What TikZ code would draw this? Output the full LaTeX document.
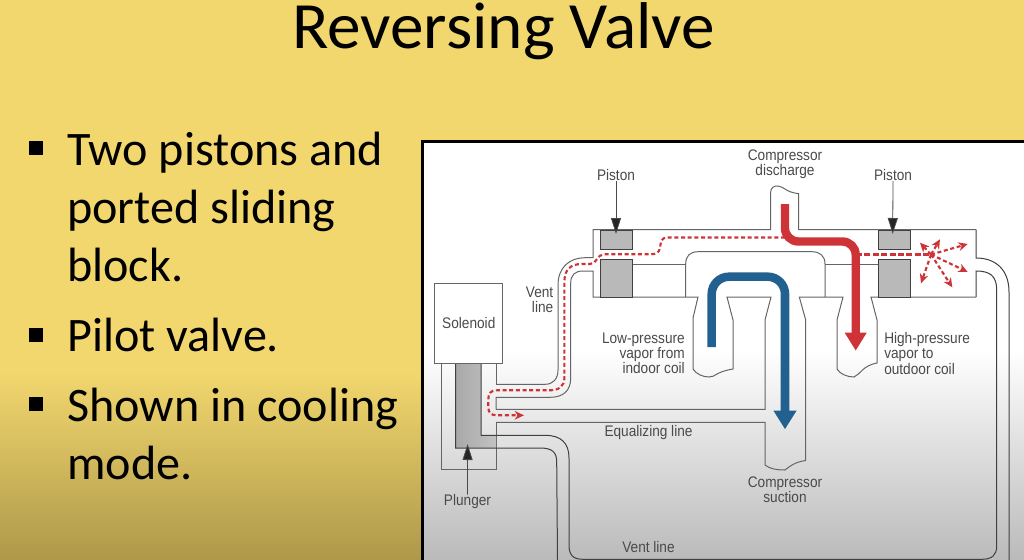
\documentclass[tikz,border=0pt]{standalone}
\usepackage{fontspec}
\setmainfont{Carlito}
\newfontfamily\lab[FakeStretch=0.89]{Liberation Sans}
\newfontfamily\ttl[FakeStretch=1.016]{Carlito}
\usetikzlibrary{arrows.meta}
\definecolor{slidey}{HTML}{F2D76E}
\definecolor{slideb}{HTML}{AE984A}
\definecolor{ink}{HTML}{4A4A4A}
\definecolor{pgray}{HTML}{B9B9B9}
\definecolor{rd}{HTML}{CE3338}
\definecolor{bl}{HTML}{22608F}
\tikzset{
  wall/.style={draw=ink!85,line width=0.75pt},
  piston/.style={draw=black!75,fill=pgray,line width=0.75pt},
  lbl/.style={font=\lab\fontsize{11.5}{11.3}\selectfont,text=ink,align=center,inner sep=0pt},
  bul/.style={fill=black,minimum size=10.5pt,inner sep=0pt,draw=none},
  slide/.style={font=\fontsize{36.1}{43.5}\selectfont,text=black,anchor=base west,inner sep=0pt,align=left},
  thin arrow/.style={draw=ink,line width=0.6pt,-{Triangle[length=12pt,width=7.5pt,fill=black!85]}},
  thickred/.style={draw=rd,line width=6.3pt,rounded corners=10pt},
  thickblue/.style={draw=bl,line width=6.4pt,rounded corners=13pt},
  dashred/.style={draw=rd,line width=1.6pt,dash pattern=on 3pt off 2pt},
  dashredb/.style={draw=rd,line width=2.2pt,dash pattern=on 4.5pt off 1.8pt},
  spray/.style={dashred,-{Stealth[length=7pt,width=6.5pt]}}
}
\begin{document}
\begin{tikzpicture}[x=0.75pt,y=-0.75pt]
\useasboundingbox (0,0) rectangle (1024,560);
% backgrounds
\fill[slidey] (0,0) rectangle (1024,372);
\shade[top color=slidey,bottom color=slideb] (0,372) rectangle (1024,560);
\fill[white] (421,140) rectangle (1024,350);
\shade[top color=white,bottom color=black!27] (421,350) rectangle (1024,560);
\draw[black,line width=2.6pt] (422.5,560) -- (422.5,141.5) -- (1024,141.5);
% title and bullets
\node[font=\ttl\fontsize{49.6}{56}\selectfont,text=black,anchor=base,inner sep=0pt] (title) at (503.5,48.5) {Reversing Valve};
\node[bul] (b1) at (36,148) {};
\node[bul] (b2) at (36,335) {};
\node[bul] (b3) at (36,403.5) {};
\node[slide] (t1) at (67,281.5) {Two pistons and\\ported sliding\\block.};
\node[slide] (t2) at (67,351) {Pilot valve.};
\node[slide] (t3) at (67,479) {Shown in cooling\\mode.};
% plunger housing
\draw[wall] (496,384.3) -- (496,363) -- (441,363) -- (441,469) -- (496,469) -- (496,422.3);
\path[left color=black!34,right color=black!24] (455.7,363) -- (481,363) -- (481,435.3) -- (496,435.3) -- (496,448) -- (455.7,448) -- cycle;
\draw[draw=black!75,line width=0.75pt] (455.7,363) -- (455.7,448) -- (540,448) .. controls (552,448) and (556.7,452) .. (556.7,462) -- (557.5,560);
\draw[draw=black!75,line width=0.75pt] (481,363) -- (481,435.3) -- (545,435.3) .. controls (561,435.3) and (569,443) .. (569,458) -- (569,545) .. controls (569,555) and (573,559.3) .. (583,559.3) -- (982,559.3) .. controls (992,559.3) and (996.7,555) .. (996.7,546) -- (996.7,290) .. controls (996.7,276) and (990,271) .. (976,271) -- (976,297);
\draw[draw=black!75,line width=0.75pt] (1009,560) -- (1009,292) .. controls (1009,270) and (996,258) .. (976,258) -- (976,229.5);
% solenoid
\node[draw=ink!85,fill=white,line width=0.75pt,minimum width=51pt,minimum height=60pt,inner sep=0pt,anchor=north west,font=\lab\fontsize{11.5}{11.3}\selectfont,text=ink] (sol) at (434.3,282.7) {Solenoid};
% vent and equalizing lines, left
\draw[wall] (496,384.3) -- (545,384.3) .. controls (553,384.3) and (558,379) .. (558,370) -- (558,285) .. controls (558,267) and (570,257.7) .. (585,257.7) -- (593,257.7) -- (593,229.5) -- (770.7,229.5) -- (770.7,192)
  .. controls (770.7,188) and (774,185.5) .. (778,186) .. controls (785,187) and (785,192) .. (798.7,193.7) -- (798.7,229.5) -- (976,229.5);
\draw[wall] (496,409.3) -- (496,397.3) -- (550,397.3) .. controls (563,397.3) and (570.7,391) .. (570.7,378) -- (570.7,283) .. controls (570.7,275) and (575,271) .. (583,271) -- (593,271) -- (593,297) -- (698,297) -- (693,318) -- (693,369)
  .. controls (696,374) and (703,377) .. (709,377) .. controls (716,377) and (715,372) .. (733,369) -- (733,320) -- (727,297) -- (771,297) -- (765,320) -- (765,409.3) -- (496,409.3);
\draw[wall] (496,422.3) -- (765,422.3) -- (765,465) .. controls (770,469) and (777,470) .. (785,470) .. controls (790,466) and (795,462) .. (805.7,460.5) -- (805.7,320) -- (799.3,297) -- (843,297) -- (837,320) -- (837,369)
  .. controls (840,374) and (847,377) .. (854,377) .. controls (861,374) and (862,366) .. (877,363) -- (877,320) -- (871,297) -- (976,297);
% inner chamber
\draw[wall] (632,264) -- (685.7,264);
\draw[wall] (685.7,297) -- (685.7,264) .. controls (685.7,256) and (690,251.7) .. (698,251.7) -- (812,251.7) .. controls (820,251.7) and (825,256) .. (825,264) -- (825,297);
\draw[wall] (825,264) -- (878,264);
% pistons
\draw[piston] (600.5,230) rectangle (632,249.5);
\draw[piston] (600.5,259) rectangle (632,297);
\draw[piston] (878,230) rectangle (910,249.5);
\draw[piston] (878,259) rectangle (910,297);
% red flow
\coordinate (spr) at (931,254.5);
\draw[dashred] (785,237.5) -- (668,237.5) .. controls (660,237.5) and (661,243) .. (660,248) .. controls (659,253) and (656,254.3) .. (650,254.3) -- (604,254.3) .. controls (597,254.3) and (597,264) .. (590,264) -- (582,264) .. controls (570,264) and (564.4,270) .. (564.4,282) -- (564.4,378) .. controls (564.4,386) and (559,390.3) .. (550,390.3) -- (497,390.3) .. controls (490,390.3) and (488.3,394) .. (488.3,400) -- (488.3,407) .. controls (488.3,413) and (491,415.3) .. (497,415.3) -- (519,415.3);
\draw[draw=rd,-{Stealth[length=7pt,width=6.5pt]},line width=1.6pt] (517,415.3) -- (524,415.3);
\draw[thickred,-{Triangle[length=13.5pt,width=15.5pt,fill=rd]}] (785,204) -- (785,241.5) -- (855.7,241.5) -- (855.7,350.7);
\draw[dashredb] (856,254.5) -- (spr);
\draw[spray] (spr) -- (920,242.7);
\draw[spray] (spr) -- (940,239.3);
\draw[spray] (spr) -- (967.7,244);
\draw[spray] (spr) -- (967.7,272);
\draw[spray] (spr) -- (952.3,287.3);
\draw[spray] (spr) -- (921,283.3);
% blue flow
\draw[thickblue,-{Triangle[length=14pt,width=16.3pt,fill=bl]}] (711.7,347) -- (711.7,276.7) -- (785,276.7) -- (785,429.3);
% labels
\node[lbl] (cd) at (785,164.5) {Compressor\\discharge};
\node[lbl] (pl) at (616,175) {Piston};
\node[lbl] (pr) at (893,175) {Piston};
\node[lbl,align=right,anchor=east] (vl) at (553.5,299.5) {Vent\\line};
\node[lbl,align=right,anchor=east] (lp) at (685,353.5) {Low-pressure\\vapor from\\indoor coil};
\node[lbl,align=left,anchor=west] (hp) at (884,353.5) {High-pressure\\vapor to\\outdoor coil};
\node[lbl] (eq) at (648.5,433) {Equalizing line};
\node[lbl] (cs) at (785,490) {Compressor\\suction};
\node[lbl] (pg) at (467.5,502) {Plunger};
\node[lbl] (vb) at (648.5,547) {Vent line};
% pointers
\coordinate (tl) at (616,234);
\coordinate (tr) at (892.7,234);
\coordinate (tp) at (467.6,444);
\draw[thin arrow] (pl.south) -- (tl);
\draw[thin arrow] (pr.south) -- (tr);
\draw[thin arrow] (pg.north) -- (tp);
\end{tikzpicture}
\end{document}
